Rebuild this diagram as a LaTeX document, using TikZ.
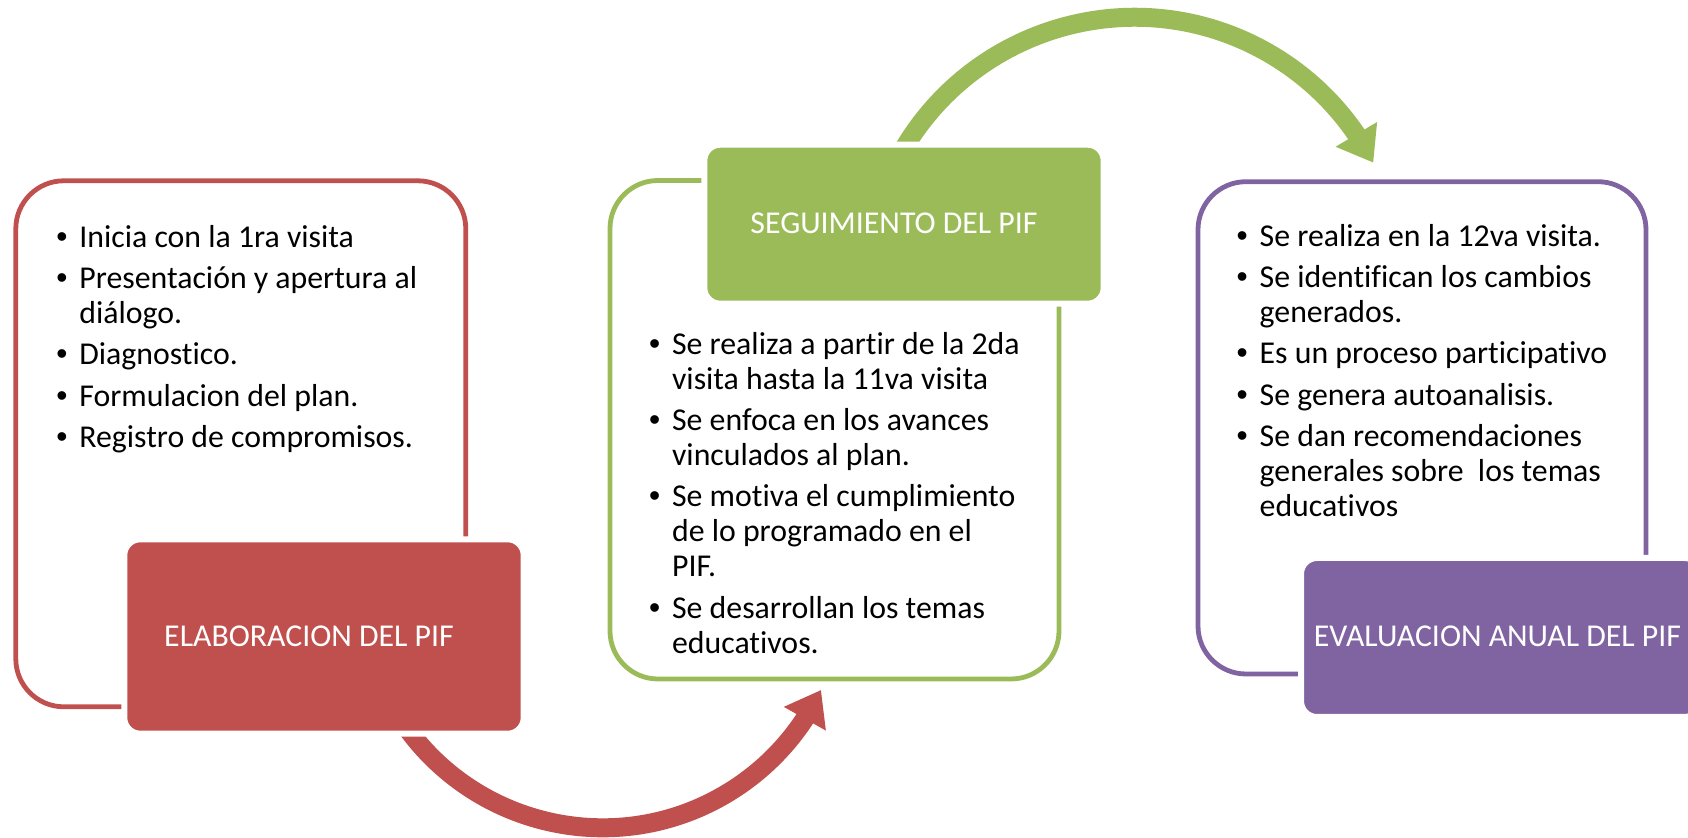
\documentclass[tikz,border=0pt]{standalone}
\usepackage{fontspec}
\setmainfont{Carlito}[Ligatures=NoCommon]
\newfontfamily\bulletfont{Liberation Sans}
\usetikzlibrary{arrows.meta,bending}

\definecolor{pifred}{HTML}{C0504D}
\definecolor{pifgreen}{HTML}{9BBB59}
\definecolor{pifpurple}{HTML}{8064A2}

\newcommand{\listfont}{\fontsize{15.9}{17.5}\selectfont\parskip=3.1pt\relax\lineskiplimit=-20pt\relax}
\newcommand{\bitem}[1]{\par\hangindent=11.5pt\relax\hangafter=1\relax\noindent\hbox to 11.5pt{\bulletfont •\hss}#1\par}

\begin{document}
\begin{tikzpicture}[x=0.5pt,y=0.5pt,
  frame/.style={line width=2.4pt,rounded corners=24pt},
  stagebox/.style={rectangle,rounded corners=8pt,draw=white,line width=3pt,
    minimum width=199.7pt,inner sep=0pt},
  stagetext/.style={anchor=base,text=white,inner sep=0pt,
    font=\fontsize{15.9}{17.5}\selectfont},
  itemlist/.style={anchor=north west,inner sep=0pt,text width=220pt,align=flush left,
    font=\listfont},
  cyclearrow/.style={line width=9.5pt,-{Triangle[length=16.5pt,width=23pt,flex]}}]
  \clip (0,0) rectangle (1688,-838);

  % curved arrows between the stages
  \coordinate (redc) at (602.6,-585.8);
  \coordinate (greenc) at (1134.6,-285.9);
  \draw[cyclearrow,pifred] (redc) ++(212:242) arc[start angle=212,end angle=334.5,radius=242];
  \draw[cyclearrow,pifgreen] (greenc) ++(152:268.6) arc[start angle=152,end angle=27.3,radius=268.6];

  % frames
  \draw[frame,pifred] (15.8,-180.8) rectangle (465.8,-706.8);
  \draw[frame,pifgreen] (610,-180.5) rectangle (1059,-679);
  \draw[frame,pifpurple] (1198,-181.7) rectangle (1646,-674);

  % stage boxes
  \node[stagebox,fill=pifred,minimum height=97.2pt] (elab) at (324,-636.5) {};
  \node[stagebox,fill=pifgreen,minimum height=79.5pt] (seg) at (904,-224.2) {};
  \node[stagebox,fill=pifpurple,minimum height=79.5pt] (eval) at (1500.7,-637.5) {};
  \node[stagetext] (elabtxt) at (309,-646.7) {ELABORACION DEL PIF};
  \node[stagetext] (segtxt) at (894,-234) {SEGUIMIENTO DEL PIF};
  \node[stagetext] (evaltxt) at (1497.5,-646.7) {EVALUACION ANUAL DEL PIF};

  % bullet lists
  \node[itemlist] (elablist) at (56,-206) {%
    \bitem{\rule{0pt}{12pt}Inicia con la 1ra visita}%
    \bitem{Presentación y apertura al\newline diálogo.}%
    \bitem{Diagnostico.}%
    \bitem{Formulacion del plan.}%
    \bitem{Registro de compromisos.}};
  \node[itemlist] (seglist) at (648.7,-313) {%
    \bitem{\rule{0pt}{12pt}Se realiza a partir de la 2da\newline visita hasta la 11va visita}%
    \bitem{Se enfoca en los avances\newline vinculados al plan.}%
    \bitem{Se motiva el cumplimiento\newline de lo programado en el\newline PIF.}%
    \bitem{Se desarrollan los temas\newline educativos.}};
  \node[itemlist] (evallist) at (1236.3,-205) {%
    \bitem{\rule{0pt}{12pt}Se realiza en la 12va visita.}%
    \bitem{Se identifican los cambios\newline generados.}%
    \bitem{Es un proceso participativo}%
    \bitem{Se genera autoanalisis.}%
    \bitem{Se dan recomendaciones\newline generales sobre\ \ los temas\newline educativos}};
\end{tikzpicture}
\end{document}
